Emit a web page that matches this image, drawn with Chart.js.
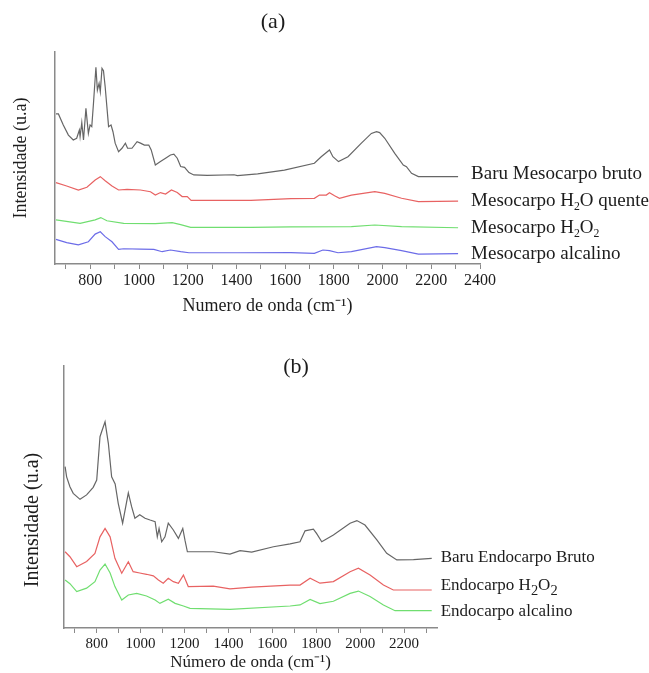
<!DOCTYPE html>
<html>
<head>
<meta charset="utf-8">
<script src="https://cdn.jsdelivr.net/npm/chart.js@4.4.1/dist/chart.umd.min.js"></script>
<style>
  html, body { margin: 0; padding: 0; background: #fff; }
  #wrapA { position: absolute; left: 0; top: 0; width: 649px; height: 330px; }
  #wrapB { position: absolute; left: 0; top: 330px; width: 649px; height: 343px; }
</style>
</head>
<body>
<div id="wrapA"><canvas id="chartA" width="649" height="330"></canvas></div>
<div id="wrapB"><canvas id="chartB" width="649" height="343"></canvas></div>
<script>
// painel (a) - mesocarpo, [numero de onda, intensidade u.a.]
const mesoBruto = [[659,70.8],[669,70.8],[689,65.6],[710,60.8],[730,58.5],[744,59.3],[755,63.2],[758,60],[765,66.7],[772,58.5],[782,73.4],[792,61.6],[799,65.6],[806,64.8],[813,75.8],[823,92.8],[829,82],[836,85.2],[841,81.3],[848,92.3],[854,91.2],[861,83.6],[868,74.2],[875,64.8],[885,65.6],[893,62.4],[902,57],[916,53],[930,54.6],[944,57],[953,54.6],[971,54.6],[992,57.7],[1006,57],[1022,56.1],[1040,56.1],[1050,53.8],[1067,46.7],[1088,48.3],[1109,49.9],[1129,51.4],[1143,51.8],[1157,49.9],[1171,46],[1187,45.6],[1205,43.1],[1225,42],[1280,41.8],[1390,42.1],[1404,41.7],[1487,42.5],[1597,44.3],[1720,47.5],[1748,50.6],[1782,53.8],[1796,50.6],[1819,48.3],[1858,50.6],[1913,57],[1954,61.6],[1975,62.4],[1988,62],[2009,59.3],[2050,52.2],[2085,46.7],[2098,45.9],[2119,42.8],[2147,41.2],[2310,41.2]];
const mesoH2OQuente = [[659,38.4],[703,36.8],[751,34.9],[786,36.2],[820,39.6],[841,41.2],[861,39.3],[889,36.8],[916,34.9],[951,35.2],[1006,34.9],[1047,34.1],[1067,32.5],[1088,33.7],[1109,33],[1133,34.9],[1157,33.7],[1177,31.8],[1198,31.8],[1214,30],[1404,30],[1459,30],[1624,30.8],[1720,31],[1741,32.5],[1769,32.5],[1782,33.6],[1803,32.2],[1823,31],[1872,32.5],[1968,34.1],[2009,33.3],[2078,31],[2147,29.4],[2310,29.7]];
const mesoH2O2 = [[659,20.8],[758,19.2],[820,20.8],[843,21.9],[868,20.4],[937,19.2],[1067,19],[1136,19.5],[1171,18.6],[1212,17.3],[1459,17.3],[1624,17.5],[1872,17.6],[1968,18.4],[2078,17.6],[2310,17.1]];
const mesoAlcalino = [[659,11.6],[703,10.1],[751,9],[792,10.5],[820,14.1],[841,15.2],[861,12.9],[889,10.5],[916,6.9],[937,7.2],[1006,7],[1061,6.9],[1095,5.8],[1129,6.6],[1171,5.8],[1205,5.3],[1404,5.3],[1624,5.4],[1720,5],[1755,6.6],[1782,6.3],[1817,5.3],[1872,5.8],[1975,8.2],[2009,7.7],[2078,6.3],[2147,4.7],[2310,4.9]];

// painel (b) - endocarpo
const endoBruto = [[656,61.6],[663,57.7],[678,53.9],[693,51.4],[724,49.1],[754,50.8],[784,53.7],[800,56.5],[815,73],[822,74.8],[838,78.7],[853,70.5],[868,57.7],[884,55],[898,47.6],[918,40],[944,51.6],[959,46.3],[974,41.9],[996,43.2],[1020,41.9],[1043,41.2],[1066,40.6],[1076,34.8],[1084,38],[1096,32.9],[1111,34.8],[1126,40],[1149,37.4],[1172,34.2],[1192,38],[1202,33.5],[1213,29.1],[1331,29.1],[1407,28.2],[1453,29.5],[1506,29],[1605,31],[1681,32.1],[1726,32.9],[1749,37.1],[1787,37.7],[1802,36],[1825,32.9],[1878,35.5],[1954,40],[1985,41],[2022,39.3],[2076,33.6],[2121,28.5],[2167,26],[2243,26.1],[2326,26.6]];
const endoH2O2 = [[656,29.1],[678,27.2],[709,23.4],[754,25.4],[792,28.5],[815,34.8],[838,38],[861,34.8],[883,26.6],[914,20.9],[944,25.3],[966,21.5],[996,21],[1027,20.5],[1058,19.9],[1081,18.3],[1103,17.1],[1126,19],[1149,17.7],[1172,17.1],[1195,20.2],[1217,15.8],[1331,16],[1407,14.9],[1506,15.6],[1681,16.4],[1726,16.4],[1772,19],[1817,17.1],[1878,17.7],[1954,21.5],[1992,22.8],[2045,20.2],[2106,16.4],[2151,14.5],[2326,14.5]];
const endoAlcalino = [[656,18.3],[678,16.9],[709,13.9],[754,15.2],[792,17.7],[815,22.1],[838,24.4],[861,21],[883,15.8],[914,10.7],[944,12.6],[982,13.2],[1027,12.2],[1066,10.7],[1088,9.4],[1126,11],[1157,9.4],[1195,8.4],[1225,7.5],[1407,7.1],[1681,8.4],[1726,8.8],[1772,10.9],[1817,9.3],[1878,10.2],[1954,13.2],[1992,14.1],[2045,12],[2106,8.8],[2159,6.6],[2326,6.6]];

// rotulos ("_2" = subscrito) e ticks
const labelsA = ['Baru Mesocarpo bruto', 'Mesocarpo H_2O quente', 'Mesocarpo H_2O_2', 'Mesocarpo alcalino'];
const labelsB = ['Baru Endocarpo Bruto', 'Endocarpo H_2O_2', 'Endocarpo alcalino'];
const ticksA = [700, 800, 900, 1000, 1100, 1200, 1300, 1400, 1500, 1600, 1700, 1800, 1900, 2000, 2100, 2200, 2300, 2400];
const ticksB = [700, 800, 900, 1000, 1100, 1200, 1300, 1400, 1500, 1600, 1700, 1800, 1900, 2000, 2100, 2200, 2300];

const SERIF = '"Liberation Serif", "Times New Roman", serif';
const TEXT = '#1c1c1c';
const AXIS = '#8a8a8a';
const COLORS_A = ['#666666', 'rgb(232,98,98)', 'rgb(112,222,112)', 'rgb(108,108,232)'];
const COLORS_B = ['#666666', 'rgb(232,98,98)', 'rgb(112,222,112)'];

const toXY = arr => arr.map(([x, y]) => ({ x, y }));

// escreve texto com "_n" como subscrito
function drawSubText(ctx, text, x, y, size, subScale, subDrop) {
    const parts = text.split(/_(\d)/);
    ctx.textAlign = 'left';
    ctx.textBaseline = 'middle';
    let cx = x;
    parts.forEach((p, i) => {
        if (!p) return;
        if (i % 2 === 1) {
            ctx.font = `${size * subScale}px ${SERIF}`;
            ctx.fillText(p, cx, y + size * subDrop);
        } else {
            ctx.font = `${size}px ${SERIF}`;
            ctx.fillText(p, cx, y);
        }
        cx += ctx.measureText(p).width;
    });
}

const panelText = {
    id: 'panelText',
    afterDraw(chart, args, o) {
        const ctx = chart.ctx;
        ctx.save();
        ctx.fillStyle = TEXT;

        ctx.font = `${o.titleSize}px ${SERIF}`;
        ctx.textAlign = 'center';
        ctx.textBaseline = 'middle';
        ctx.fillText(o.title, o.titleX, o.titleY);

        ctx.save();
        ctx.translate(o.yTitleX, o.yTitleY);
        ctx.rotate(-Math.PI / 2);
        ctx.font = `${o.yTitleSize}px ${SERIF}`;
        ctx.fillText(o.yTitle, 0, 0);
        ctx.restore();

        chart.data.datasets.forEach((ds, i) => {
            const pts = chart.getDatasetMeta(i).data;
            const last = pts[pts.length - 1];
            drawSubText(ctx, ds.label, last.x + o.gap, last.y + o.dy[i], o.labelSize, o.subScale, o.subDrop);
        });
        ctx.restore();
    }
};

function makeDatasets(series, labels, colors) {
    return series.map((s, i) => ({
        label: labels[i],
        data: toXY(s),
        borderColor: colors[i],
        borderWidth: 1.2,
        pointRadius: 0,
        tension: 0,
        fill: false,
    }));
}

function xScale(min, max, ticks, height, tickSize, titleText, titleSize, titlePad) {
    return {
        type: 'linear',
        min, max,
        afterBuildTicks: s => { s.ticks = ticks.map(v => ({ value: v })); },
        afterFit: s => { s.height = height; },
        ticks: {
            autoSkip: false,
            maxRotation: 0,
            padding: 2,
            color: TEXT,
            font: { family: SERIF, size: tickSize },
            callback: v => (v % 200 === 0 ? String(v) : ''),
        },
        grid: { drawOnChartArea: false, drawTicks: true, tickLength: 5, tickColor: AXIS, tickWidth: 1 },
        border: { display: true, color: AXIS, width: 1.5 },
        title: {
            display: true,
            text: titleText,
            color: TEXT,
            font: { family: SERIF, size: titleSize },
            padding: { top: 0, bottom: titlePad },
        },
    };
}

function yScale(width) {
    return {
        min: 0, max: 100,
        afterFit: s => { s.width = width; },
        ticks: { display: false },
        grid: { display: true, drawOnChartArea: false, drawTicks: false },
        border: { display: true, color: AXIS, width: 1.5 },
    };
}

new Chart(document.getElementById('chartA'), {
    type: 'line',
    data: { datasets: makeDatasets([mesoBruto, mesoH2OQuente, mesoH2O2, mesoAlcalino], labelsA, COLORS_A) },
    options: {
        responsive: false,
        animation: false,
        layout: { padding: { top: 52, right: 169, left: 0, bottom: 0 } },
        plugins: {
            legend: { display: false },
            tooltip: { enabled: false },
            panelText: {
                title: '(a)', titleX: 273, titleY: 22, titleSize: 22,
                yTitle: 'Intensidade (u.a)', yTitleX: 21, yTitleY: 158, yTitleSize: 18,
                gap: 13, dy: [-3, 0, 0, 0], labelSize: 19, subScale: 0.62, subDrop: 0.32,
            },
        },
        scales: {
            x: xScale(655, 2400, ticksA, 66, 16, 'Numero de onda (cm⁻¹)', 18, 13),
            y: yScale(55),
        },
    },
    plugins: [panelText],
});

new Chart(document.getElementById('chartB'), {
    type: 'line',
    data: { datasets: makeDatasets([endoBruto, endoH2O2, endoAlcalino], labelsB, COLORS_B) },
    options: {
        responsive: false,
        animation: false,
        layout: { padding: { top: 36, right: 212, left: 0, bottom: 0 } },
        plugins: {
            legend: { display: false },
            tooltip: { enabled: false },
            panelText: {
                title: '(b)', titleX: 296, titleY: 37, titleSize: 22,
                yTitle: 'Intensidade (u.a)', yTitleX: 33, yTitleY: 190, yTitleSize: 20,
                gap: 9, dy: [-1, -4, 1], labelSize: 17, subScale: 0.85, subDrop: 0.3,
            },
        },
        scales: {
            x: xScale(651, 2350, ticksB, 45, 15, 'Número de onda (cm⁻¹)', 17, 0),
            y: yScale(64),
        },
    },
    plugins: [panelText],
});
</script>
</body>
</html>
